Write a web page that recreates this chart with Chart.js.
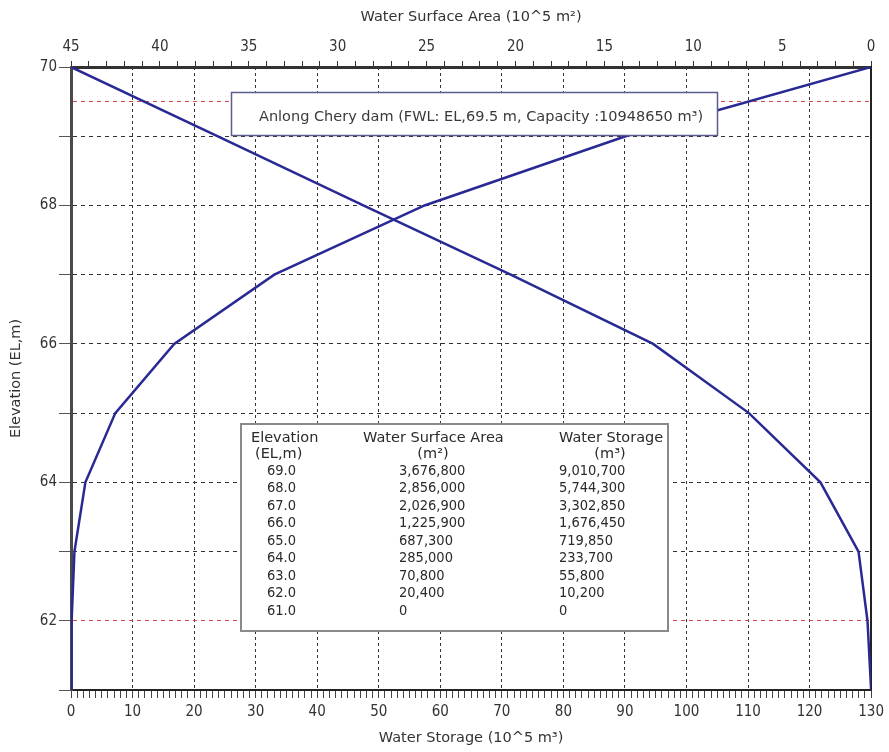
<!DOCTYPE html>
<html>
<head>
<meta charset="utf-8">
<script src="https://cdn.jsdelivr.net/npm/chart.js@4.4.0/dist/chart.umd.min.js"></script>
<style>
  html, body { margin: 0; padding: 0; background: #fff; }
</style>
</head>
<body>
<canvas id="chart" width="889" height="752"></canvas>
<script>
// Elevation - area - capacity curve of Anlong Chery dam
const elevation   = [61, 62, 63, 64, 65, 66, 67, 68, 69, 70];
const surfaceArea = [0, 20400, 70800, 285000, 687300, 1225900, 2026900, 2856000, 3676800, 4500000];   // m2
const storage     = [0, 10200, 55800, 233700, 719850, 1676450, 3302850, 5744300, 9010700, 13000000];  // m3
const tableElev   = [69, 68, 67, 66, 65, 64, 63, 62, 61];
const FWL  = 69.5;
const LWL  = 62;
const UNIT = 1e5;

const annotationText = 'Anlong Chery dam (FWL: EL,69.5 m, Capacity :10948650 m³)';

const LINE   = '#292994';
const RED    = '#e04848';
const GRID   = '#333';
const TICKFONT = { family: "'Liberation Sans Narrow', 'DejaVu Sans Condensed', sans-serif", size: 15 };
const TEXTFONT = "'DejaVu Sans', sans-serif";
const NUMFONT  = "'DejaVu Sans Condensed', 'DejaVu Sans', sans-serif";

const fmt = n => Math.round(n).toLocaleString('en-US');

const storagePts = elevation.map((e, i) => ({ x: storage[i] / UNIT, y: e }));
const areaPts    = elevation.map((e, i) => ({ x: surfaceArea[i] / UNIT, y: e }));

// annotation box + elevation table drawn over the plot
const boxesPlugin = {
  id: 'boxes',
  afterDraw(chart) {
    const ctx = chart.ctx;
    ctx.save();

    ctx.fillStyle = '#fff';
    ctx.fillRect(231, 92, 487, 44);
    ctx.strokeStyle = '#5c5c8e';
    ctx.lineWidth = 1.5;
    ctx.strokeRect(231.5, 92.5, 486, 43);
    ctx.fillStyle = '#3a3a3a';
    ctx.font = `14.5px ${TEXTFONT}`;
    ctx.textBaseline = 'middle';
    ctx.textAlign = 'center';
    ctx.fillText(annotationText, 481, 117);

    ctx.fillStyle = '#fff';
    ctx.fillRect(241, 423, 427, 208);
    ctx.strokeStyle = '#8a8a8a';
    ctx.lineWidth = 2;
    ctx.strokeRect(241, 424, 427, 207);

    ctx.fillStyle = '#2a2a2a';
    ctx.textAlign = 'left';
    ctx.fillText('Elevation', 251, 438);
    ctx.fillText('(EL,m)', 255, 454);
    ctx.fillText('Water Surface Area', 363, 438);
    ctx.fillText('Water Storage', 559, 438);
    ctx.textAlign = 'center';
    ctx.fillText('(m²)', 433, 454);
    ctx.fillText('(m³)', 610, 454);

    ctx.textAlign = 'left';
    ctx.font = `14.5px ${NUMFONT}`;
    tableElev.forEach((e, r) => {
      const i = elevation.indexOf(e);
      const y = 471 + r * 17.5;
      ctx.fillText(e.toFixed(1), 267, y);
      ctx.fillText(fmt(surfaceArea[i]), 399, y);
      ctx.fillText(fmt(storage[i]), 559, y);
    });
    ctx.restore();
  }
};

new Chart(document.getElementById('chart'), {
  type: 'scatter',
  data: {
    datasets: [
      { label: 'Water Storage', data: storagePts, xAxisID: 'x', yAxisID: 'y',
        showLine: true, borderColor: LINE, borderWidth: 2.5, pointRadius: 0, tension: 0 },
      { label: 'Water Surface Area', data: areaPts, xAxisID: 'x2', yAxisID: 'y',
        showLine: true, borderColor: LINE, borderWidth: 2.5, pointRadius: 0, tension: 0 },
    ],
  },
  options: {
    responsive: false,
    animation: false,
    layout: { padding: { left: 0, right: 17, top: 0, bottom: 0 } },
    plugins: { legend: { display: false }, tooltip: { enabled: false } },
    scales: {
      x: {
        type: 'linear', position: 'bottom', min: 0, max: 130,
        afterFit: s => { s.height = 62; },
        ticks: { stepSize: 1, autoSkip: false, maxRotation: 0, padding: 5, color: '#333', font: TICKFONT,
                 callback: v => (v % 10 === 0 ? v : '') },
        grid: { color: c => (c.tick && c.tick.value % 10 === 0 ? GRID : 'transparent'),
                tickColor: '#444', tickLength: 8, tickBorderDash: [] },
        border: { color: '#222', width: 2, dash: [3, 3] },
        title: { display: true, text: 'Water Storage (10^5 m³)', color: '#333',
                 font: { family: TEXTFONT, size: 14.5 }, padding: { top: 0, bottom: 5 } },
      },
      x2: {
        type: 'linear', position: 'top', min: 0, max: 45, reverse: true,
        afterFit: s => { s.height = 67; },
        ticks: { stepSize: 1, autoSkip: false, maxRotation: 0, padding: 5, color: '#333', font: TICKFONT,
                 callback: v => (v % 5 === 0 ? v : '') },
        grid: { drawOnChartArea: false, tickColor: '#333', tickLength: 6, tickBorderDash: [] },
        border: { color: '#333', width: 3 },
        title: { display: true, text: 'Water Surface Area (10^5 m²)', color: '#333',
                 font: { family: TEXTFONT, size: 14.5 }, padding: { top: 9, bottom: 0 } },
      },
      y: {
        type: 'linear', position: 'left', min: 61, max: 70,
        afterFit: s => { s.width = 71; },
        afterBuildTicks: s => {
          s.ticks.push({ value: FWL });
          s.ticks.sort((a, b) => a.value - b.value);
        },
        ticks: { stepSize: 1, autoSkip: false, padding: 2, color: '#333', font: TICKFONT,
                 callback: v => (v % 2 === 0 ? v : '') },
        grid: {
          color: c => (c.tick && (c.tick.value === FWL || c.tick.value === LWL) ? RED : GRID),
          tickColor: c => (c.tick && c.tick.value === FWL ? 'transparent' : '#555'),
          tickLength: 12, tickBorderDash: [],
        },
        border: { color: '#4a4a4a', width: 3, dash: [4, 4] },
        title: { display: true, text: 'Elevation (EL,m)', color: '#333',
                 font: { family: TEXTFONT, size: 14.5 }, padding: { top: 8, bottom: 0 } },
      },
      yR: {
        type: 'linear', position: 'right', min: 61, max: 70,
        afterFit: s => { s.width = 0; },
        ticks: { display: false },
        grid: { drawOnChartArea: false, drawTicks: false },
        border: { color: '#222', width: 2 },
      },
    },
  },
  plugins: [boxesPlugin],
});
</script>
</body>
</html>
